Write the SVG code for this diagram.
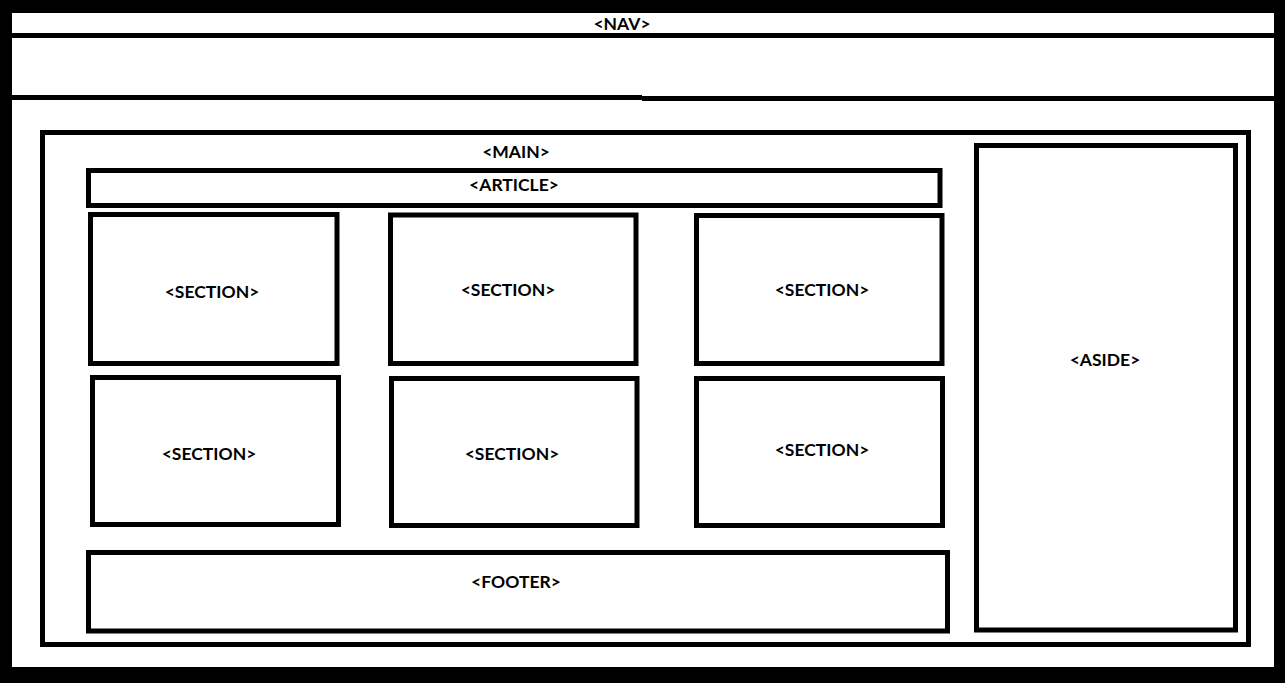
<svg xmlns="http://www.w3.org/2000/svg" width="1285" height="683" viewBox="0 0 1285 683">
<style>
.box{fill:none;stroke:#000;stroke-width:5}
.t{font-family:Lato,"Open Sans","Liberation Sans",sans-serif;font-weight:bold;font-size:17.5px;fill:#000;text-anchor:middle}
</style>
<rect x="0" y="0" width="1285" height="683" fill="#000"/>
<rect x="12" y="13" width="1262" height="654" fill="#fff"/>
<g id="nav">
<rect x="12" y="33" width="1262" height="5" fill="#000"/>
<rect x="12" y="95" width="630" height="5" fill="#000"/>
<rect x="642" y="96" width="632" height="5" fill="#000"/>
<text class="t" x="622" y="30">&lt;NAV&gt;</text>
</g>
<g id="main">
<rect class="box" x="42.5" y="132.5" width="1206" height="512"/>
<text class="t" x="516" y="158">&lt;MAIN&gt;</text>
</g>
<g id="article">
<rect class="box" x="88.5" y="170.5" width="851.5" height="35"/>
<text class="t" x="514" y="191">&lt;ARTICLE&gt;</text>
</g>
<g id="section1">
<rect class="box" x="90.5" y="214.5" width="246.5" height="149"/>
<text class="t" x="212" y="298">&lt;SECTION&gt;</text>
</g>
<g id="section2">
<rect class="box" x="390.5" y="215" width="245.5" height="148.5"/>
<text class="t" x="508" y="296">&lt;SECTION&gt;</text>
</g>
<g id="section3">
<rect class="box" x="696.5" y="215.5" width="245.5" height="148"/>
<text class="t" x="822" y="296">&lt;SECTION&gt;</text>
</g>
<g id="section4">
<rect class="box" x="92.5" y="377.5" width="246" height="147"/>
<text class="t" x="209" y="460">&lt;SECTION&gt;</text>
</g>
<g id="section5">
<rect class="box" x="391.5" y="378.5" width="245.5" height="147"/>
<text class="t" x="512" y="460">&lt;SECTION&gt;</text>
</g>
<g id="section6">
<rect class="box" x="696.5" y="378.5" width="246" height="147"/>
<text class="t" x="822" y="456">&lt;SECTION&gt;</text>
</g>
<g id="footer">
<rect class="box" x="88.5" y="552.5" width="859" height="78.5"/>
<text class="t" x="516" y="588">&lt;FOOTER&gt;</text>
</g>
<g id="aside">
<rect class="box" x="976.5" y="145.5" width="259" height="484.5"/>
<text class="t" x="1105" y="366">&lt;ASIDE&gt;</text>
</g>
<g id="connectors"></g>
</svg>
